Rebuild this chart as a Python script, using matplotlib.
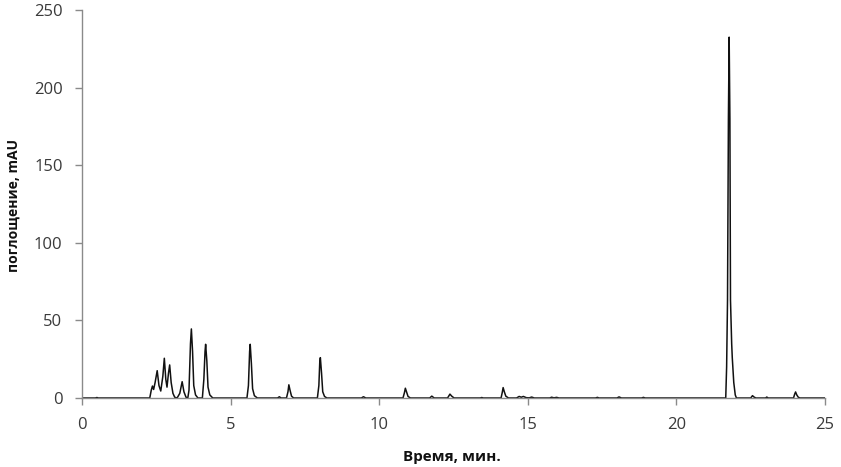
import matplotlib
matplotlib.use("Agg")
import matplotlib.pyplot as plt

# Chromatogram trace: time (min) and absorbance (mAU)
time_min = [
    0.0, 0.45, 0.5, 0.55,
    2.28, 2.33, 2.37, 2.41, 2.46, 2.53, 2.59, 2.65, 2.72, 2.77, 2.82, 2.86,
    2.91, 2.95, 3.0, 3.06, 3.12, 3.2, 3.29, 3.37, 3.43, 3.5, 3.56, 3.6,
    3.65, 3.68, 3.72, 3.76, 3.82, 3.9, 4.05, 4.1, 4.14, 4.16, 4.2, 4.24,
    4.3, 4.4,
    5.55, 5.6, 5.64, 5.66, 5.7, 5.74, 5.8, 5.9,
    6.58, 6.64, 6.7,
    6.88, 6.93, 6.96, 7.0, 7.05, 7.12,
    7.92, 7.97, 8.0, 8.02, 8.06, 8.1, 8.16, 8.24,
    9.4, 9.47, 9.55,
    10.8, 10.85, 10.88, 10.92, 10.97, 11.05,
    11.7, 11.77, 11.85,
    12.3, 12.38, 12.44, 12.52,
    13.4, 13.45, 13.5,
    14.1, 14.14, 14.17, 14.21, 14.26, 14.35,
    14.62, 14.71, 14.78, 14.85, 14.95, 15.05, 15.13, 15.22,
    15.74, 15.8, 15.88, 15.97, 16.05,
    17.28, 17.34, 17.4,
    18.0, 18.07, 18.15,
    18.83, 18.89, 18.95,
    21.66, 21.69, 21.72, 21.75, 21.775, 21.80, 21.82, 21.86, 21.88, 21.93,
    21.98, 22.02,
    22.5, 22.56, 22.62, 22.68,
    23.0, 23.04, 23.09,
    23.94, 23.98, 24.01, 24.05, 24.1, 24.16,
    25.0,
]
absorbance_mau = [
    0.0, 0.0, 0.3, 0.0,
    0.0, 5.0, 7.7, 5.5, 10.0, 17.6, 8.0, 4.5, 14.0, 25.6, 12.0, 7.0,
    16.0, 21.3, 10.0, 3.0, 0.5, 0.0, 3.0, 10.5, 4.0, 0.5, 0.0, 5.0,
    35.0, 44.5, 30.0, 8.0, 2.0, 0.0, 0.0, 12.0, 30.0, 34.6, 24.0, 7.0,
    2.0, 0.0,
    0.0, 8.0, 30.0, 34.6, 22.0, 6.0, 1.5, 0.0,
    0.0, 0.8, 0.0,
    0.0, 4.0, 8.5, 5.0, 1.2, 0.0,
    0.0, 8.0, 23.0, 26.0, 16.0, 4.0, 1.0, 0.0,
    0.0, 0.8, 0.0,
    0.0, 3.5, 6.3, 4.0, 1.0, 0.0,
    0.0, 1.2, 0.0,
    0.0, 2.5, 1.2, 0.0,
    0.0, 0.3, 0.0,
    0.0, 3.5, 6.7, 4.0, 1.2, 0.0,
    0.0, 1.0, 0.5, 1.0, 0.2, 0.1, 0.6, 0.0,
    0.0, 0.5, 0.1, 0.4, 0.0,
    0.0, 0.4, 0.0,
    0.0, 0.7, 0.0,
    0.0, 0.4, 0.0,
    0.0, 20.0, 63.0, 180.0, 232.5, 180.0, 63.0, 35.0, 26.0, 10.0,
    2.0, 0.0,
    0.0, 1.5, 0.5, 0.0,
    0.0, 0.6, 0.0,
    0.0, 2.5, 3.9, 2.0, 0.5, 0.0,
    0.0,
]

x_ticks = [0, 5, 10, 15, 20, 25]
y_ticks = [0, 50, 100, 150, 200, 250]
x_label = "Время, мин."
y_label = "поглощение, mAU"

plt.rcParams['font.family'] = ['Open Sans', 'DejaVu Sans']

fig = plt.figure(figsize=(8.41, 4.67), dpi=100)
ax = fig.add_axes([82 / 841, 1 - 398 / 467, (825 - 82) / 841, (398 - 10) / 467])

ax.plot(time_min, absorbance_mau, color='#111111', lw=1.1)

ax.set_xlim(0, 25)
ax.set_ylim(0, 250)
ax.set_xticks(x_ticks)
ax.set_yticks(y_ticks)

for s in ['top', 'right']:
    ax.spines[s].set_visible(False)
for s in ['left', 'bottom']:
    ax.spines[s].set_color('#8a8a8a')
    ax.spines[s].set_linewidth(1.0)

ax.tick_params(axis='both', direction='out', length=5, width=1.0,
               color='#8a8a8a', labelsize=12, labelcolor='#3a3a3a')
ax.tick_params(axis='y', pad=9)
ax.tick_params(axis='x', pad=9)

ax.set_xlabel(x_label, fontsize=11, fontweight='bold', color='#111111')
ax.set_ylabel(y_label, fontsize=10, fontweight='bold', color='#111111')
ax.xaxis.set_label_coords(452 / 841, 1 - 457 / 467, transform=fig.transFigure)
ax.xaxis.label.set_va('center')
ax.yaxis.set_label_coords(14 / 841, 1 - 206 / 467, transform=fig.transFigure)
ax.yaxis.label.set_va('center')

fig.savefig("out.png", dpi=100, facecolor='white')
